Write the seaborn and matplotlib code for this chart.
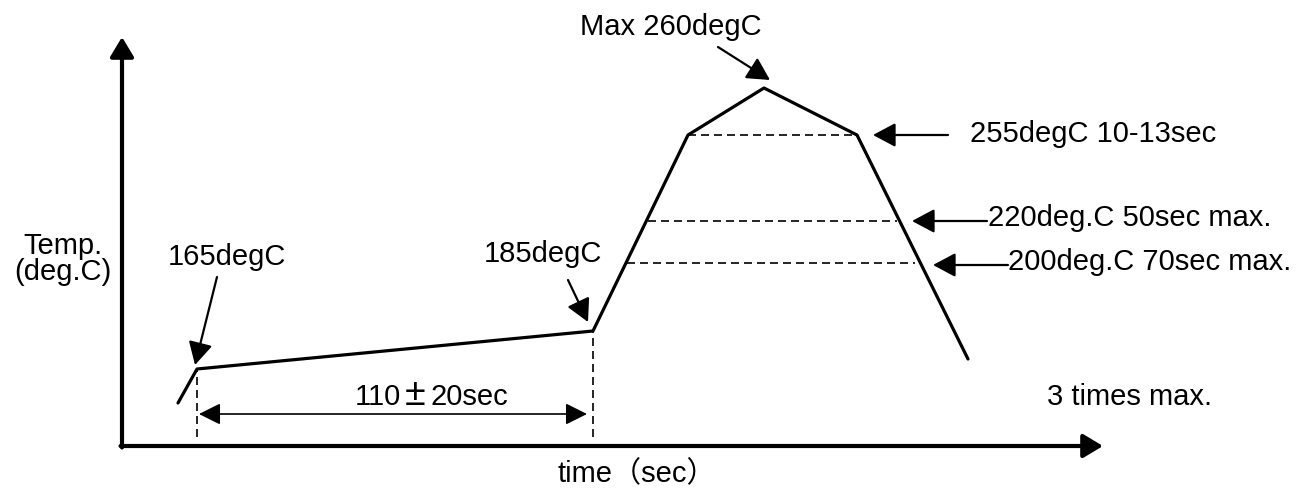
import matplotlib
matplotlib.use('Agg')
import matplotlib.pyplot as plt
import seaborn as sns
import pandas as pd


# reflow profile, schematic units (time from origin, level above the time axis)
profile_time = [56, 75, 471, 566, 642, 735, 846]
profile_level = [43, 77, 115, 311, 358, 311, 87]

# horizontal dashed guides: 255, 220, 200 degC
guide_level = [311, 225, 183]
guide_start = [566, 526, 505]
guide_end = [735, 775, 793]

# vertical dashed guides at the start / end of preheat
mark_time = [75, 471]
mark_top = [77, 115]

callout_labels = ['Max 260degC', '255degC 10-13sec', '220deg.C 50sec max.',
                  '200deg.C 70sec max.', '165degC', '185degC']
preheat_parts = ['110', '\u00b1', '20sec']
note_label = '3 times max.'
x_label = 'time\uff08sec\uff09'
y_label = 'Temp.\n(deg.C)'


sns.set_style('white')
plt.rcParams['font.family'] = ['Liberation Sans', 'Noto Sans CJK JP', 'DejaVu Sans']
plt.rcParams['text.color'] = 'black'
FS = 21

fig = plt.figure(figsize=(13.08, 4.95), dpi=100)
ax = fig.add_axes([0, 0, 1, 1])
ax.set_xlim(-122, 1186)
ax.set_ylim(-49, 446)
ax.axis('off')

df = pd.DataFrame({'time': profile_time, 'level': profile_level})
sns.lineplot(data=df, x='time', y='level', sort=False, color='black', lw=2.3, ax=ax)

for lv, x0, x1 in zip(guide_level, guide_start, guide_end):
	ax.plot([x0, x1], [lv, lv], color='black', lw=1.2, dashes=(4.8, 3))
for t, top in zip(mark_time, mark_top):
	ax.plot([t, t], [9, top], color='black', lw=1.2, dashes=(4.8, 3))

# axes drawn as arrows
axis_arrow = dict(arrowstyle='-|>,head_length=0.5,head_width=0.3', lw=3.0, color='black',
	shrinkA=0, shrinkB=0, mutation_scale=24)
ax.annotate('', xy=(0, 409), xytext=(0, -1.5), arrowprops=axis_arrow)
ax.annotate('', xy=(981, 0), xytext=(-1.5, 0), arrowprops=axis_arrow)

pointer = dict(arrowstyle='-|>,head_length=0.6,head_width=0.32', lw=1.6, color='black',
	shrinkA=0, shrinkB=0, mutation_scale=23)

# callouts: (label, text xy, arrow tail, arrow tip)
callouts = [
	(callout_labels[0], (458, 411), (596, 399), (648, 366)),
	(callout_labels[1], (848, 304), (826, 311), (751, 311)),
	(callout_labels[2], (866, 220), (865, 225), (790, 225)),
	(callout_labels[3], (886, 176), (886, 181), (811, 181)),
	(callout_labels[4], (46, 181), (95, 169), (73, 81)),
	(callout_labels[5], (362, 184), (446, 166), (466, 124)),
]
for lab, txy, tail, tip in callouts:
	ax.text(txy[0], txy[1], lab, fontsize=FS, ha='left', va='baseline')
	ax.annotate('', xy=tip, xytext=tail, arrowprops=pointer)

dim = dict(arrowstyle='<|-|>,head_length=0.6,head_width=0.3', lw=1.2, color='black',
	shrinkA=0, shrinkB=0, mutation_scale=22)
ax.annotate('', xy=(465, 32), xytext=(77, 32), arrowprops=dim)
ax.text(279, 41, preheat_parts[0], fontsize=FS, ha='right', va='baseline')
ax.text(293, 41, preheat_parts[1], fontsize=FS + 6, ha='center', va='baseline')
ax.text(308, 41, preheat_parts[2], fontsize=FS, ha='left', va='baseline')

ax.text(925, 41, note_label, fontsize=FS, ha='left', va='baseline')
ax.text(436, -36, x_label, fontsize=FS, ha='left', va='baseline')
ax.text(-59, 187, y_label, fontsize=FS, ha='center', va='center', linespacing=0.95)

fig.savefig('out.png', dpi=100)
